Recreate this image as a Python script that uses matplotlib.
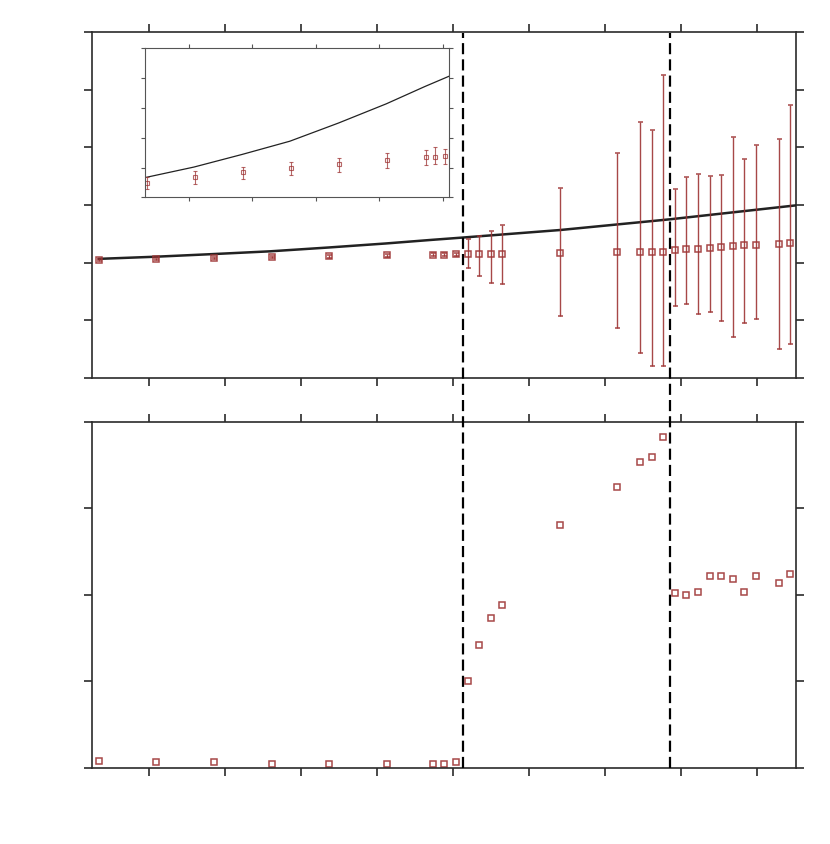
import numpy as np
import matplotlib
matplotlib.use("Agg")
import matplotlib.pyplot as plt
from matplotlib.lines import Line2D
import matplotlib.transforms as mtransforms

# ---------------- data ----------------
x = [0.336, 1.094, 1.852, 2.610, 3.368, 4.126, 4.732, 4.884, 5.036, 5.187,
     5.339, 5.490, 5.642, 6.400, 7.158, 7.461, 7.613, 7.764, 7.916, 8.068,
     8.219, 8.371, 8.522, 8.674, 8.826, 8.977, 9.280, 9.432]

top_values = [2.046, 2.068, 2.084, 2.100, 2.115, 2.128, 2.139, 2.140, 2.142, 2.145,
              2.145, 2.145, 2.145, 2.162, 2.180, 2.185, 2.190, 2.190, 2.225, 2.232,
              2.242, 2.259, 2.277, 2.289, 2.301, 2.311, 2.329, 2.336]

top_err_minus = [0.022, 0.025, 0.023, 0.025, 0.029, 0.028, 0.029, 0.025, 0.028, 0.243,
                 0.376, 0.492, 0.515, 1.082, 1.313, 1.757, 1.982, 1.982, 0.971, 0.949,
                 1.127, 1.109, 1.283, 1.573, 1.347, 1.288, 1.826, 1.752]

top_err_plus = [0.022, 0.020, 0.020, 0.022, 0.022, 0.025, 0.025, 0.036, 0.027, 0.265,
                0.322, 0.409, 0.508, 1.127, 1.727, 2.254, 2.105, 3.069, 1.057, 1.259,
                1.290, 1.244, 1.243, 1.895, 1.502, 1.724, 1.820, 2.393]

bottom_values = [0.081, 0.062, 0.062, 0.046, 0.046, 0.046, 0.046, 0.046, 0.062, 0.999,
                 1.415, 1.734, 1.877, 2.814, 3.253, 3.534, 3.592, 3.831, 2.016, 1.997,
                 2.035, 2.216, 2.216, 2.178, 2.035, 2.216, 2.135, 2.236]

# model curve
curve_x = [0.336, 1.080, 1.841, 2.592, 3.358, 4.113, 4.722, 5.089, 6.404, 7.851, 9.518]
curve_y = [2.066, 2.103, 2.149, 2.197, 2.263, 2.333, 2.396, 2.432, 2.566, 2.752, 2.995]

# vertical boundaries
boundaries = [5.13, 7.85]

xticks = [1, 2, 3, 4, 5, 6, 7, 8, 9]
top_yticks = [0, 1, 2, 3, 4, 5, 6]
bottom_yticks = [0, 1, 2, 3, 4]

# ---------------- style ----------------
RED = "#9e3434"
SPINE = "#2b2b2b"
W, H = 830, 844

fig = plt.figure(figsize=(W / 100, H / 100), dpi=100)

def frac(l, t, r, b):
    return [l / W, 1 - b / H, (r - l) / W, (b - t) / H]

ax1 = fig.add_axes(frac(92, 32, 796, 378))
ax2 = fig.add_axes(frac(92, 422, 796, 767.7))
axin = fig.add_axes(frac(145, 48.3, 449.3, 197.3))

xlim = (0.246, 9.509)

def style_main(ax, yt):
    ax.set_xlim(*xlim)
    ax.set_xticks(xticks)
    ax.set_ylim(yt[0], yt[-1])
    ax.set_yticks(yt)
    for s in ax.spines.values():
        s.set_color(SPINE)
        s.set_linewidth(1.2)
    ax.tick_params(direction="out", length=5.5, width=1.2, color=SPINE,
                   top=True, right=True, bottom=True, left=True,
                   labelbottom=False, labelleft=False, labeltop=False, labelright=False)

style_main(ax1, top_yticks)
style_main(ax2, bottom_yticks)

# top panel
ax1.plot(curve_x, curve_y, color="#222222", lw=1.8, zorder=3)
ax1.errorbar(x, top_values, yerr=[top_err_minus, top_err_plus], fmt="s",
             ms=5, mfc="none", mec=RED, mew=1.1, ecolor=RED, elinewidth=1.0,
             capsize=1.8, capthick=1.0, alpha=0.9, zorder=4)

# bottom panel
ax2.plot(x, bottom_values, "s", ms=5, mfc="none", mec=RED, mew=1.1, alpha=0.9)

# inset
axin.set_xlim(0.3087, 5.107)
axin.set_xticks([1, 2, 3, 4, 5])
ilo, ihi = 1.993, 2.535
axin.set_ylim(ilo, ihi)
axin.set_yticks(np.linspace(ilo, ihi, 6))
for s in axin.spines.values():
    s.set_color("#555555")
    s.set_linewidth(0.8)
axin.tick_params(direction="out", length=2.8, width=0.8, color="#555555",
                 top=True, right=True, labelbottom=False, labelleft=False)
axin.plot(curve_x, curve_y, color="#222222", lw=0.9)
axin.errorbar(x, top_values, yerr=[top_err_minus, top_err_plus], fmt="s",
              ms=3, mfc="none", mec=RED, mew=0.8, ecolor=RED, elinewidth=0.8,
              capsize=1.2, capthick=0.8, alpha=0.75)

# dashed vertical boundaries spanning both panels
blend = mtransforms.blended_transform_factory(ax1.transData, fig.transFigure)
y_bot = 1 - 767.7 / H
y_top = 1 - 33 / H
for xb in boundaries:
    ln = Line2D([xb, xb], [y_bot, y_top], transform=blend, color="black",
                lw=1.6, zorder=10)
    ln.set_dashes([5.0, 2.3])
    fig.add_artist(ln)

fig.savefig("out.png", dpi=100)
